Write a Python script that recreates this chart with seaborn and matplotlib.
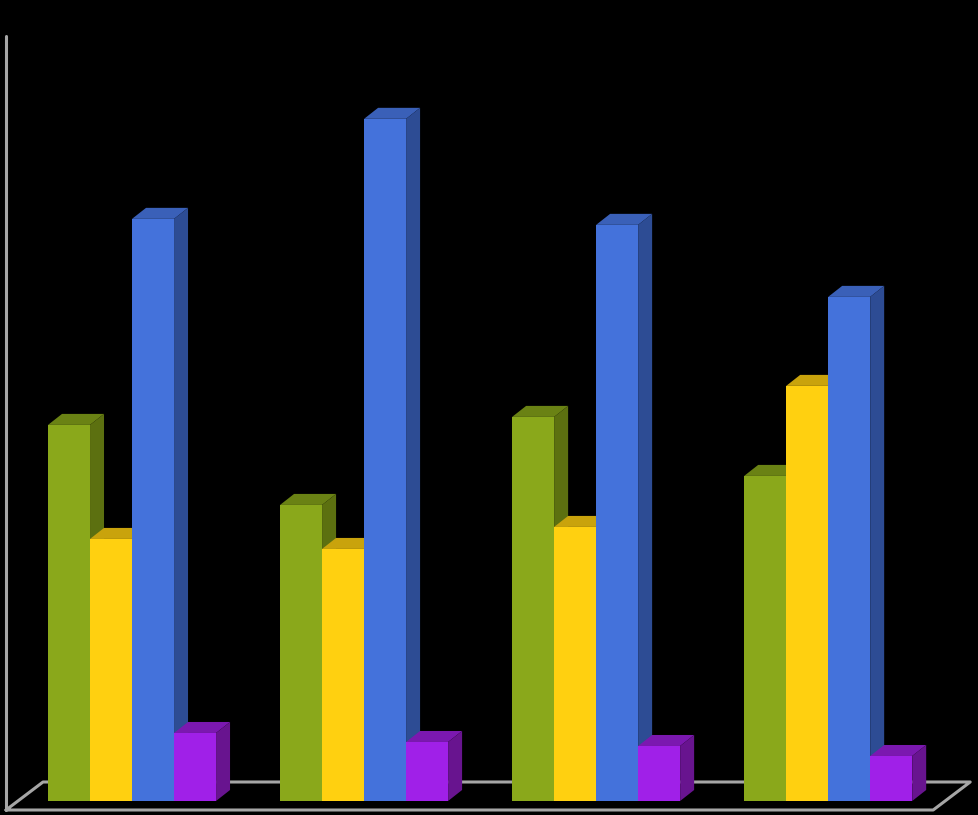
''' plot.py - 3D looking grouped bars on a black background '''
import pandas as pd
import matplotlib
matplotlib.use("Agg")
import matplotlib.pyplot as plt
from matplotlib.patches import Polygon
from matplotlib.lines import Line2D
import seaborn as sns

categories = ["A", "B", "C", "D"]
green_values = [376, 296, 384, 325]
yellow_values = [262, 252, 274, 415]
blue_values = [582, 682, 576, 504]
purple_values = [68, 59, 55, 45]

series_names = ["green", "yellow", "blue", "purple"]
front_colors = ["#8aa81b", "#ffd010", "#4472db", "#a020e8"]
top_colors = ["#6a8214", "#c9a30c", "#3a60b8", "#7b18b0"]
side_colors = ["#5c7010", "#ad8c0a", "#2d4c94", "#68148f"]

W, H = 978, 815
BASE_Y = 801     # pixel row of the bars' baseline
DX, DY = 14, 11  # depth of the 3D effect in pixels

df = pd.DataFrame({
    "category": categories * 4,
    "series": [s for s in series_names for _ in categories],
    "value": green_values + yellow_values + blue_values + purple_values,
})

sns.set_style("white")
# small extra so 9.78 * 100 does not truncate to 977 px
fig = plt.figure(figsize=((W + 0.2) / 100, (H + 0.2) / 100), dpi=100, facecolor="black")
ax = fig.add_axes([0, 0, 1, 1])
ax.set_facecolor("black")

# Floor and wall, in figure fractions
floor = [(6, 810), (933, 810), (970, 782), (43, 782), (6, 810)]
fx = [p[0] / W for p in floor]
fy = [1 - p[1] / H for p in floor]
fig.add_artist(Line2D(fx, fy, color="#a6a6a6", lw=2.2, zorder=0))
fig.add_artist(Line2D([5.5 / W, 5.5 / W], [1 - 36 / H, 1 - 810 / H], color="#a6a6a6", lw=2.2, zorder=0))
ax.patch.set_visible(False)

sns.barplot(data=df, x="category", y="value", hue="series", hue_order=series_names,
            palette=front_colors, width=168 / 232, gap=0, saturation=1, legend=False,
            linewidth=0, ax=ax)

# Category 0 centre sits at 132 px, spacing 232 px
ax.set_xlim(-132 / 232, (W - 132) / 232)
ax.set_ylim(BASE_Y - H, BASE_Y)
ax.axis("off")

# Add top and side faces, taken from each drawn bar
dx = DX / 232
bars = [p for p in ax.patches if p.get_height() > 0]
for i, bar in enumerate(bars):
    color_i = i // len(categories)
    x0 = bar.get_x()
    x1 = x0 + bar.get_width()
    h = bar.get_height()
    z = 3 + (x0 + 1) * 20
    bar.set_zorder(z + 0.2)
    top = Polygon([(x0, h), (x1, h), (x1 + dx, h + DY), (x0 + dx, h + DY)],
                  closed=True, fc=top_colors[color_i], ec="none", zorder=z)
    side = Polygon([(x1, 0), (x1 + dx, DY), (x1 + dx, h + DY), (x1, h)],
                   closed=True, fc=side_colors[color_i], ec="none", zorder=z + 0.1)
    ax.add_patch(top)
    ax.add_patch(side)

fig.savefig("out.png", dpi=100, facecolor="black")
